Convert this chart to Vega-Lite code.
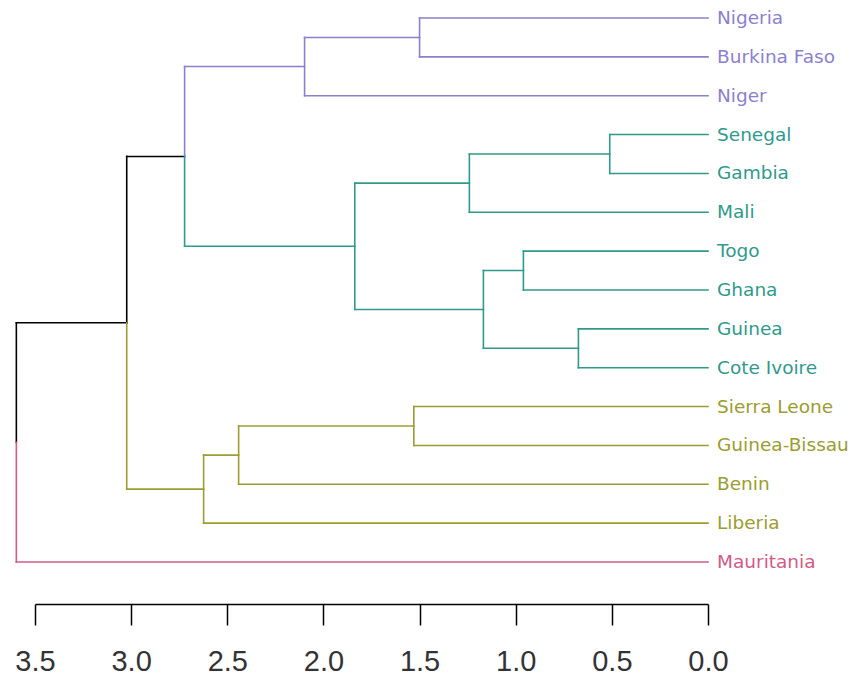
{
  "$schema": "https://vega.github.io/schema/vega-lite/v6.json",
  "autosize": {"type": "none"},
  "padding": {"left": 35, "top": 18, "right": 148, "bottom": 120},
  "width": 673,
  "height": 544,
  "background": "white",
  "config": {"view": {"stroke": null}},
  "datasets": {
    "segs": [
      {"h1": 0, "h2": 1.50, "y1": 0, "y2": 0, "cluster": "A"},
      {"h1": 0, "h2": 1.50, "y1": 1, "y2": 1, "cluster": "A"},
      {"h1": 0, "h2": 2.098, "y1": 2, "y2": 2, "cluster": "A"},
      {"h1": 1.50, "h2": 2.098, "y1": 0.5, "y2": 0.5, "cluster": "A"},
      {"h1": 2.098, "h2": 2.722, "y1": 1.25, "y2": 1.25, "cluster": "A"},
      {"h1": 0, "h2": 0.511, "y1": 3, "y2": 3, "cluster": "B"},
      {"h1": 0, "h2": 0.511, "y1": 4, "y2": 4, "cluster": "B"},
      {"h1": 0, "h2": 1.241, "y1": 5, "y2": 5, "cluster": "B"},
      {"h1": 0.511, "h2": 1.241, "y1": 3.5, "y2": 3.5, "cluster": "B"},
      {"h1": 0, "h2": 0.960, "y1": 6, "y2": 6, "cluster": "B"},
      {"h1": 0, "h2": 0.960, "y1": 7, "y2": 7, "cluster": "B"},
      {"h1": 0, "h2": 0.674, "y1": 8, "y2": 8, "cluster": "B"},
      {"h1": 0, "h2": 0.674, "y1": 9, "y2": 9, "cluster": "B"},
      {"h1": 0.960, "h2": 1.168, "y1": 6.5, "y2": 6.5, "cluster": "B"},
      {"h1": 0.674, "h2": 1.168, "y1": 8.5, "y2": 8.5, "cluster": "B"},
      {"h1": 1.241, "h2": 1.837, "y1": 4.25, "y2": 4.25, "cluster": "B"},
      {"h1": 1.168, "h2": 1.837, "y1": 7.5, "y2": 7.5, "cluster": "B"},
      {"h1": 1.837, "h2": 2.722, "y1": 5.875, "y2": 5.875, "cluster": "B"},
      {"h1": 2.722, "h2": 3.023, "y1": 3.5625, "y2": 3.5625, "cluster": "root"},
      {"h1": 0, "h2": 1.530, "y1": 10, "y2": 10, "cluster": "C"},
      {"h1": 0, "h2": 1.530, "y1": 11, "y2": 11, "cluster": "C"},
      {"h1": 0, "h2": 2.441, "y1": 12, "y2": 12, "cluster": "C"},
      {"h1": 0, "h2": 2.623, "y1": 13, "y2": 13, "cluster": "C"},
      {"h1": 1.530, "h2": 2.441, "y1": 10.5, "y2": 10.5, "cluster": "C"},
      {"h1": 2.441, "h2": 2.623, "y1": 11.25, "y2": 11.25, "cluster": "C"},
      {"h1": 2.623, "h2": 3.023, "y1": 12.125, "y2": 12.125, "cluster": "C"},
      {"h1": 3.023, "h2": 3.597, "y1": 7.84375, "y2": 7.84375, "cluster": "root"},
      {"h1": 0, "h2": 3.597, "y1": 14, "y2": 14, "cluster": "D"},
      {"h1": 1.50, "h2": 1.50, "y1": 0, "y2": 1, "cluster": "A"},
      {"h1": 2.098, "h2": 2.098, "y1": 0.5, "y2": 2, "cluster": "A"},
      {"h1": 0.511, "h2": 0.511, "y1": 3, "y2": 4, "cluster": "B"},
      {"h1": 1.241, "h2": 1.241, "y1": 3.5, "y2": 5, "cluster": "B"},
      {"h1": 0.960, "h2": 0.960, "y1": 6, "y2": 7, "cluster": "B"},
      {"h1": 0.674, "h2": 0.674, "y1": 8, "y2": 9, "cluster": "B"},
      {"h1": 1.168, "h2": 1.168, "y1": 6.5, "y2": 8.5, "cluster": "B"},
      {"h1": 1.837, "h2": 1.837, "y1": 4.25, "y2": 7.5, "cluster": "B"},
      {"h1": 2.722, "h2": 2.722, "y1": 1.25, "y2": 3.5625, "cluster": "A"},
      {"h1": 2.722, "h2": 2.722, "y1": 3.5625, "y2": 5.875, "cluster": "B"},
      {"h1": 1.530, "h2": 1.530, "y1": 10, "y2": 11, "cluster": "C"},
      {"h1": 2.441, "h2": 2.441, "y1": 10.5, "y2": 12, "cluster": "C"},
      {"h1": 2.623, "h2": 2.623, "y1": 11.25, "y2": 13, "cluster": "C"},
      {"h1": 3.023, "h2": 3.023, "y1": 3.5625, "y2": 7.84375, "cluster": "root"},
      {"h1": 3.023, "h2": 3.023, "y1": 7.84375, "y2": 12.125, "cluster": "C"},
      {"h1": 3.597, "h2": 3.597, "y1": 7.84375, "y2": 10.921875, "cluster": "root"},
      {"h1": 3.597, "h2": 3.597, "y1": 10.921875, "y2": 14, "cluster": "D"}
    ],
    "leaves": [
      {"name": "Nigeria", "idx": 0, "h": 0, "cluster": "A"},
      {"name": "Burkina Faso", "idx": 1, "h": 0, "cluster": "A"},
      {"name": "Niger", "idx": 2, "h": 0, "cluster": "A"},
      {"name": "Senegal", "idx": 3, "h": 0, "cluster": "B"},
      {"name": "Gambia", "idx": 4, "h": 0, "cluster": "B"},
      {"name": "Mali", "idx": 5, "h": 0, "cluster": "B"},
      {"name": "Togo", "idx": 6, "h": 0, "cluster": "B"},
      {"name": "Ghana", "idx": 7, "h": 0, "cluster": "B"},
      {"name": "Guinea", "idx": 8, "h": 0, "cluster": "B"},
      {"name": "Cote Ivoire", "idx": 9, "h": 0, "cluster": "B"},
      {"name": "Sierra Leone", "idx": 10, "h": 0, "cluster": "C"},
      {"name": "Guinea-Bissau", "idx": 11, "h": 0, "cluster": "C"},
      {"name": "Benin", "idx": 12, "h": 0, "cluster": "C"},
      {"name": "Liberia", "idx": 13, "h": 0, "cluster": "C"},
      {"name": "Mauritania", "idx": 14, "h": 0, "cluster": "D"}
    ]
  },
  "layer": [
    {
      "data": {"name": "segs"},
      "mark": {"type": "rule", "strokeWidth": 1.6, "strokeCap": "square"},
      "encoding": {
        "x": {
          "field": "h1", "type": "quantitative",
          "scale": {"domain": [0, 3.5], "reverse": true, "nice": false, "zero": false},
          "axis": {
            "values": [0, 0.5, 1, 1.5, 2, 2.5, 3, 3.5],
            "format": ".1f",
            "title": null,
            "grid": false,
            "offset": 42,
            "domainColor": "#000000",
            "domainWidth": 1.5,
            "tickColor": "#000000",
            "tickWidth": 1.5,
            "tickSize": 21,
            "labelFont": "Liberation Sans",
            "labelFontSize": 29,
            "labelFontWeight": "normal",
            "labelColor": "#333333",
            "labelPadding": 22,
            "labelFlush": false,
            "labelOverlap": false
          }
        },
        "x2": {"field": "h2"},
        "y": {
          "field": "y1", "type": "quantitative",
          "scale": {"domain": [0, 14], "reverse": true, "nice": false, "zero": false},
          "axis": null
        },
        "y2": {"field": "y2"},
        "color": {
          "field": "cluster", "type": "nominal",
          "scale": {"domain": ["A", "B", "C", "D", "root"], "range": ["#8c7fd0", "#2f9a8c", "#9c9c30", "#d45a88", "#000000"]},
          "legend": null
        }
      }
    },
    {
      "data": {"name": "leaves"},
      "mark": {"type": "text", "align": "left", "baseline": "middle", "dx": 9, "font": "DejaVu Sans", "fontSize": 18.5},
      "encoding": {
        "x": {"field": "h", "type": "quantitative"},
        "y": {"field": "idx", "type": "quantitative"},
        "text": {"field": "name"},
        "color": {"field": "cluster", "type": "nominal", "legend": null}
      }
    }
  ]
}
